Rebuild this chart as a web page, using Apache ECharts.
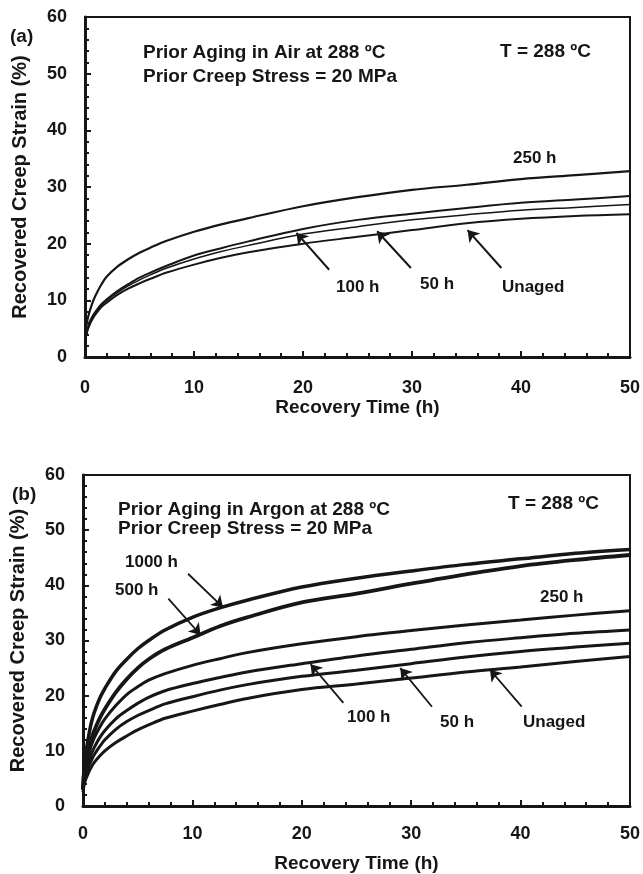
<!DOCTYPE html>
<html>
<head>
<meta charset="utf-8">
<script src="https://cdn.jsdelivr.net/npm/echarts@6/dist/echarts.min.js"></script>
<style>
html,body{margin:0;padding:0;background:#fff;}
#chart{width:643px;height:874px;}
</style>
</head>
<body>
<div id="chart"></div>
<script>
// ---------- DATA ----------
const times = [0, 0.1, 0.25, 0.5, 0.75, 1, 1.5, 2, 3, 4, 5, 6, 7.5, 10, 12.5, 15, 20, 25, 30, 35, 40, 45, 50];

// (a) Prior aging in air
const airAged250 = [2.5, 5.0, 6.8, 8.5, 9.9, 11.0, 12.8, 14.2, 16.0, 17.3, 18.4, 19.3, 20.5, 22.1, 23.4, 24.5, 26.6, 28.2, 29.5, 30.4, 31.4, 32.1, 32.8];
const airAged100 = [2.0, 3.8, 5.0, 6.5, 7.4, 8.1, 9.3, 10.2, 11.7, 12.9, 14.0, 14.9, 16.1, 17.9, 19.2, 20.4, 22.6, 24.2, 25.3, 26.3, 27.2, 27.8, 28.4];
const airAged50  = [2.0, 3.8, 5.0, 6.3, 7.2, 7.9, 9.1, 10.0, 11.4, 12.6, 13.6, 14.5, 15.7, 17.3, 18.6, 19.7, 21.7, 23.0, 24.2, 25.1, 25.9, 26.4, 26.9];
const airUnaged  = [2.0, 3.6, 4.8, 6.0, 6.9, 7.6, 8.8, 9.6, 11.0, 12.1, 13.0, 13.8, 14.9, 16.3, 17.5, 18.5, 20.0, 21.2, 22.4, 23.6, 24.4, 24.9, 25.2];

// (b) Prior aging in argon
const arAged1000 = [3.0, 7.0, 9.5, 12.5, 15.0, 16.8, 19.4, 21.3, 24.4, 26.6, 28.5, 30.0, 31.9, 34.2, 35.9, 37.3, 39.7, 41.3, 42.6, 43.8, 44.8, 45.8, 46.5];
const arAged500  = [3.0, 6.0, 8.0, 10.2, 12.0, 13.5, 15.8, 17.6, 20.6, 23.0, 25.0, 26.6, 28.4, 30.5, 32.6, 34.2, 36.9, 38.5, 40.3, 42.0, 43.5, 44.6, 45.5];
const arAged250  = [3.0, 5.5, 7.2, 9.3, 10.9, 12.2, 14.2, 15.8, 18.2, 20.2, 21.6, 22.8, 24.0, 25.5, 26.7, 27.8, 29.4, 30.7, 31.8, 32.8, 33.7, 34.6, 35.4];
const arAged100  = [3.0, 5.0, 6.3, 8.0, 9.4, 10.5, 12.3, 13.7, 15.8, 17.3, 18.6, 19.7, 20.9, 22.2, 23.3, 24.3, 25.8, 27.2, 28.4, 29.6, 30.5, 31.3, 31.9];
const arAged50   = [3.0, 4.6, 5.7, 7.1, 8.2, 9.2, 10.7, 12.0, 13.9, 15.3, 16.4, 17.3, 18.5, 19.8, 21.0, 22.0, 23.5, 24.6, 25.8, 27.0, 28.0, 28.8, 29.5];
const arUnaged   = [2.5, 3.8, 4.8, 6.0, 7.0, 7.8, 9.0, 10.0, 11.5, 12.7, 13.8, 14.7, 15.9, 17.2, 18.4, 19.5, 21.1, 22.1, 23.2, 24.3, 25.2, 26.2, 27.1];

const xTicks = [0, 10, 20, 30, 40, 50];
const yTicks = [0, 10, 20, 30, 40, 50, 60];

// arrows: [fromX, fromY, toX, toY] in data units
const arrowsA = [[22.4, 15.4, 19.4, 21.9], [29.9, 15.7, 26.8, 22.2], [38.2, 15.7, 35.1, 22.4]];
const arrowsB = [[9.6, 42.1, 12.8, 36.0], [7.8, 37.6, 10.75, 31.0], [23.8, 18.7, 20.8, 25.7], [31.9, 18.0, 29.0, 25.0], [40.1, 18.0, 37.2, 24.7]];

// ---------- CHART ----------
const FONT = '"Liberation Sans", Arial, Helvetica, sans-serif';
const INK = '#161616';
const zip = arr => times.map((t, i) => [t, arr[i]]);

function xAxisCfg(gridIndex, gap, labelMargin) {
  return {
    type: 'value', gridIndex, min: 0, max: 50, interval: 10,
    name: 'Recovery Time (h)', nameLocation: 'middle', nameGap: gap,
    nameTextStyle: { fontFamily: FONT, fontWeight: 'bold', fontSize: 19, color: INK },
    axisLine: { show: true, onZero: false, lineStyle: { color: INK, width: 3 } },
    axisTick: { show: true, inside: true, length: 6, lineStyle: { color: INK, width: 2 } },
    minorTick: { show: true, splitNumber: 5, length: 4, lineStyle: { color: INK, width: 2 } },
    splitLine: { show: false },
    axisLabel: { fontFamily: FONT, fontWeight: 'bold', fontSize: 18, color: INK, margin: labelMargin,
      formatter: v => xTicks.includes(v) ? String(v) : '' }
  };
}
function yAxisCfg(gridIndex) {
  return {
    type: 'value', gridIndex, min: 0, max: 60, interval: 10,
    name: 'Recovered Creep Strain (%)', nameLocation: 'middle', nameGap: 55,
    nameTextStyle: { fontFamily: FONT, fontWeight: 'bold', fontSize: 20, color: INK },
    axisLine: { show: true, onZero: false, lineStyle: { color: INK, width: 3 } },
    axisTick: { show: true, inside: true, length: 6, lineStyle: { color: INK, width: 2 } },
    minorTick: { show: true, splitNumber: 5, length: 4, lineStyle: { color: INK, width: 2 } },
    splitLine: { show: false },
    axisLabel: { fontFamily: FONT, fontWeight: 'bold', fontSize: 18, color: INK, margin: 18,
      formatter: v => yTicks.includes(v) ? String(v) : '' }
  };
}
function lineSeries(name, arr, idx, width) {
  return {
    name, type: 'line', xAxisIndex: idx, yAxisIndex: idx, data: zip(arr),
    showSymbol: false, smooth: 0.35,
    lineStyle: { color: INK, width }, silent: true
  };
}
function arrowMark(list, width) {
  return {
    silent: true, symbol: ['none', 'arrow'], symbolSize: 11,
    label: { show: false },
    itemStyle: { color: INK },
    lineStyle: { color: INK, width, type: 'solid' },
    emphasis: { disabled: true },
    data: list.map(a => [{ coord: [a[0], a[1]] }, { coord: [a[2], a[3]] }])
  };
}
function txt(text, x, y, size) {
  return { type: 'text', x, y, silent: true,
    style: { text, fill: INK, font: 'bold ' + size + 'px ' + FONT, align: 'left', verticalAlign: 'middle' } };
}

const seriesA = [
  lineSeries('250 h', airAged250, 0, 2.2),
  lineSeries('100 h', airAged100, 0, 2),
  lineSeries('50 h', airAged50, 0, 1.5),
  lineSeries('Unaged', airUnaged, 0, 2)
];
seriesA[0].markLine = arrowMark(arrowsA, 2);

const seriesB = [
  lineSeries('1000 h', arAged1000, 1, 3.5),
  lineSeries('500 h', arAged500, 1, 3.8),
  lineSeries('250 h', arAged250, 1, 3),
  lineSeries('100 h', arAged100, 1, 3),
  lineSeries('50 h', arAged50, 1, 3),
  lineSeries('Unaged', arUnaged, 1, 3)
];
seriesB[0].markLine = arrowMark(arrowsB, 1.8);

const option = {
  animation: false,
  backgroundColor: '#ffffff',
  grid: [
    { left: 85, top: 17, width: 546, height: 340, show: true, borderColor: INK, borderWidth: 2, backgroundColor: 'transparent' },
    { left: 81, top: 475, width: 550, height: 331, show: true, borderColor: INK, borderWidth: 2, backgroundColor: 'transparent' }
  ],
  xAxis: [xAxisCfg(0, 40, 22), xAxisCfg(1, 48, 19)],
  yAxis: [yAxisCfg(0), yAxisCfg(1)],
  series: seriesA.concat(seriesB),
  graphic: [
    txt('(a)', 10, 37, 19),
    txt('Prior Aging in Air at 288 ºC', 143, 53, 19),
    txt('Prior Creep Stress = 20 MPa', 143, 77, 19),
    txt('T = 288 ºC', 500, 52, 19),
    txt('250 h', 513, 158, 17),
    txt('100 h', 336, 287, 17),
    txt('50 h', 420, 284, 17),
    txt('Unaged', 502, 287, 17),
    txt('(b)', 12, 495, 19),
    txt('Prior Aging in Argon at 288 ºC', 118, 510, 19),
    txt('Prior Creep Stress = 20 MPa', 118, 529, 19),
    txt('T = 288 ºC', 508, 504, 19),
    txt('1000 h', 125, 562, 17),
    txt('500 h', 115, 590, 17),
    txt('250 h', 540, 597, 17),
    txt('100 h', 347, 717, 17),
    txt('50 h', 440, 722, 17),
    txt('Unaged', 523, 722, 17)
  ]
};

const chart = echarts.init(document.getElementById('chart'), null, { renderer: 'canvas' });
chart.setOption(option);
</script>
</body>
</html>
